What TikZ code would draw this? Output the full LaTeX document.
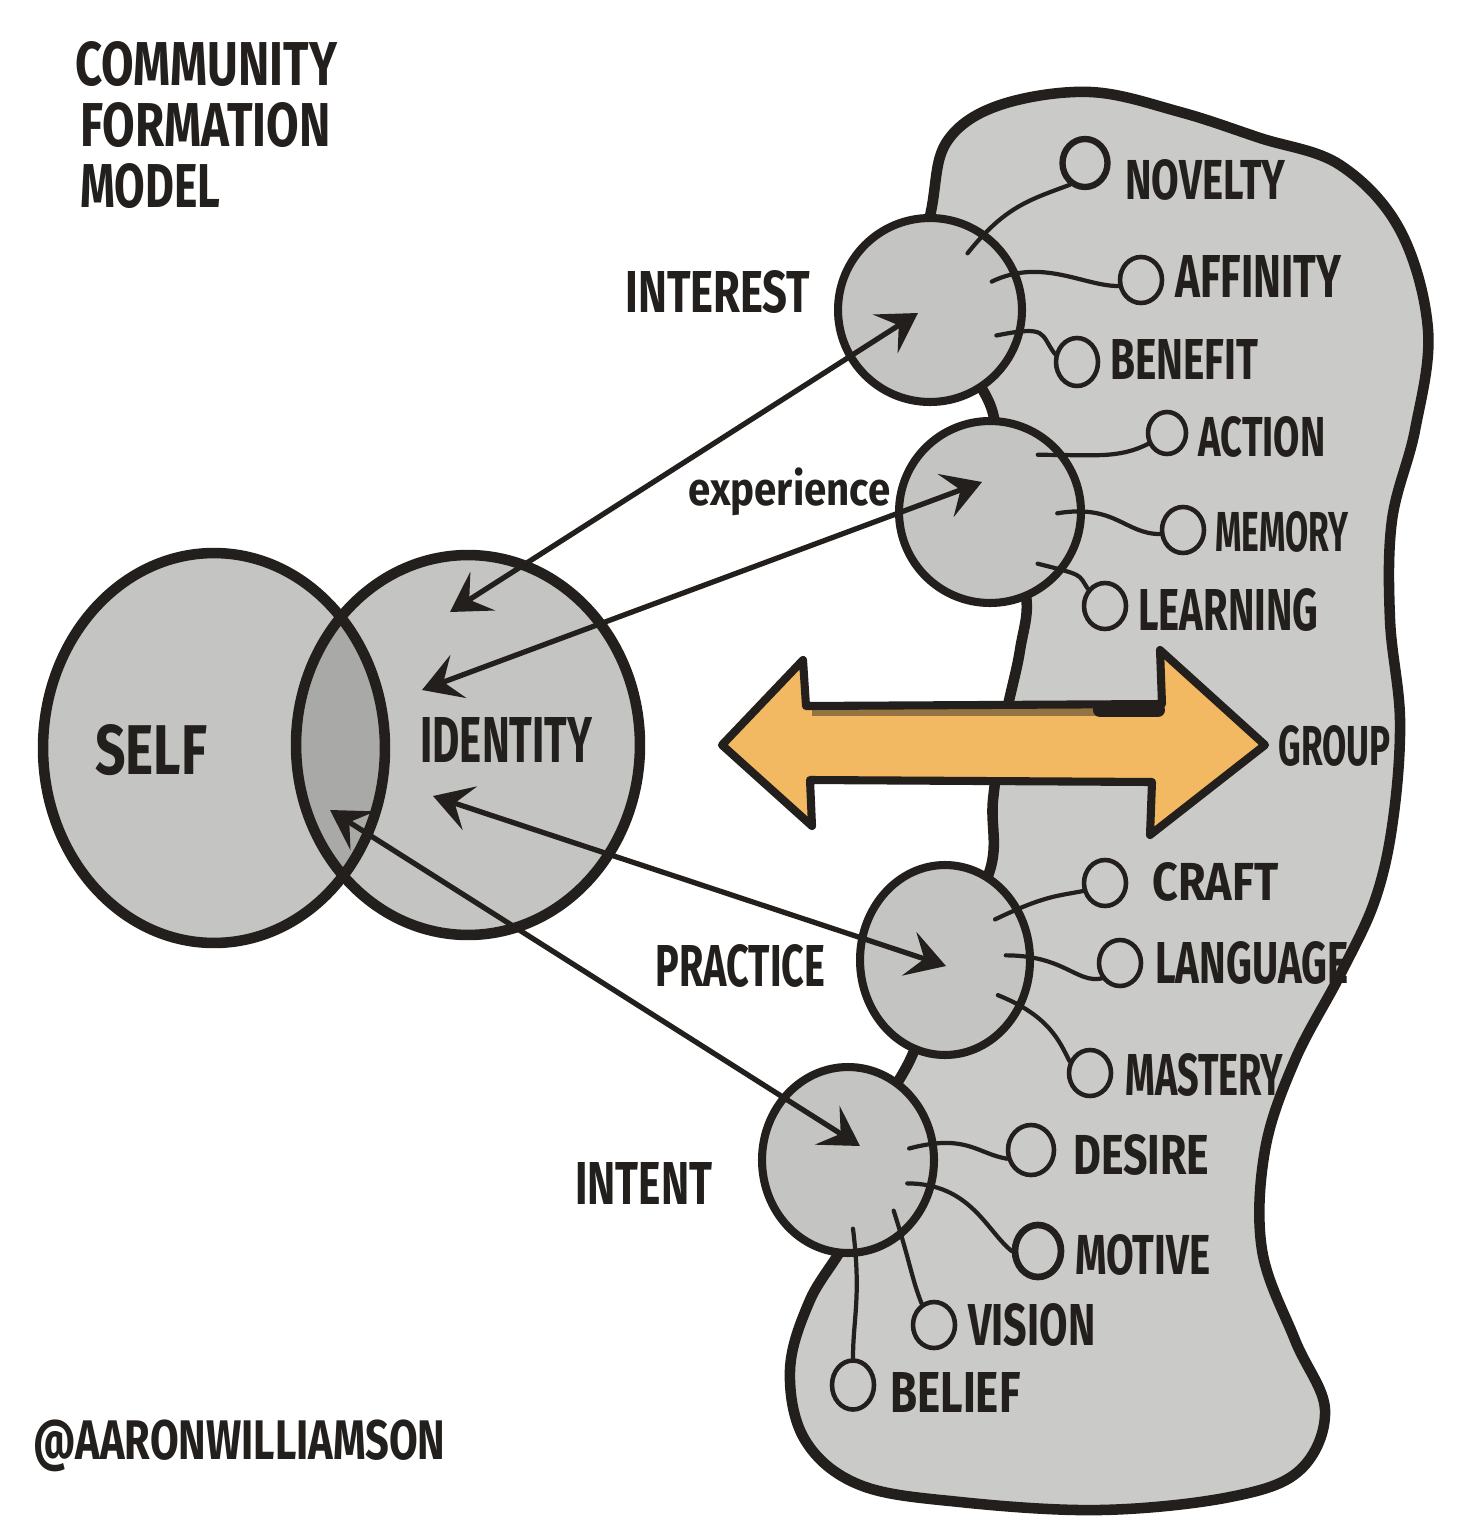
\documentclass[tikz,border=0pt]{standalone}
\usepackage{fontspec}
\newfontfamily\handfont{Fira Sans}
\usetikzlibrary{arrows.meta,shapes.geometric}
\newlength\pxu
\setlength\pxu{0.02cm}
\newcommand\hw[3]{\resizebox{#1\pxu}{#2\pxu}{\handfont\bfseries #3}}
\newcommand\hws[3]{\resizebox*{#1\pxu}{#2\pxu}{\handfont\bfseries #3}}
\definecolor{ink}{HTML}{231F1D}
\definecolor{blobgrey}{HTML}{CACAC8}
\definecolor{circgrey}{HTML}{C4C4C2}
\definecolor{overlapgrey}{HTML}{A9A9A7}
\definecolor{orangef}{HTML}{F2B862}
\tikzset{
  blobshape/.style={fill=blobgrey, draw=ink, line width=6pt, line join=round},
  bigc/.style={circle, fill=circgrey, draw=ink, line width=4.6pt, inner sep=0pt},
  bige/.style={ellipse, fill=circgrey, draw=ink, line width=4.6pt, inner sep=0pt},
  smallc/.style={ellipse, draw=ink, line width=2.6pt, inner sep=0pt, minimum width=0.84cm, minimum height=0.92cm},
  conn/.style={draw=ink, line width=2.4pt, line cap=round, shorten <=-16pt},
  tarrow/.style={draw=ink, line width=3pt, line cap=round,
    arrows={Stealth[length=22pt,width=26pt,inset=9pt]-Stealth[length=22pt,width=26pt,inset=9pt]}},
  lbl/.style={inner sep=0pt, anchor=west, text=ink},
  outl/.style={draw=ink, line width=6pt}
}
\begin{document}
\begin{tikzpicture}[x={(0.02cm,0)}, y={(0,-0.02cm)}]
\useasboundingbox (0,0) rectangle (1456,1520);
\fill[white] (0,0) rectangle (1456,1520);

% group blob
\draw[blobshape] plot[smooth cycle, tension=0.6] coordinates {
 (925,300) (933,200) (948,140) (1000,105) (1090,92) (1180,112) (1260,138)
 (1340,165) (1400,230) (1428,330) (1415,430) (1392,520) (1390,620)
 (1400,720) (1393,820) (1375,900) (1340,975) (1295,1060) (1265,1150)
 (1262,1250) (1295,1340) (1325,1410) (1300,1470) (1230,1497) (1100,1510)
 (960,1502) (860,1485) (805,1440) (790,1370) (810,1300) (850,1230)
 (850,1160) (910,1060) (945,960) (990,870) (993,800) (1005,720)
 (1020,650) (1025,590) (990,510) (992,410)};

% stage circles
\node[bigc, minimum size=3.68cm] (interest) at (930,310) {};
\node[bigc, minimum size=3.64cm] (experience) at (990,512) {};
\node[bige, minimum width=3.4cm, minimum height=3.8cm] (practice) at (945,960) {};
\node[bige, minimum width=3.44cm, minimum height=3.72cm] (intent) at (848,1160) {};

% small circles
\node[smallc, line width=3.6pt, minimum width=0.9cm, minimum height=0.96cm] (nov) at (1085,163) {};
\node[smallc] (aff) at (1141,280) {};
\node[smallc, minimum height=0.96cm] (ben) at (1077,362) {};
\node[smallc, minimum width=0.76cm, minimum height=0.84cm] (act) at (1167,433) {};
\node[smallc] (mem) at (1183,530) {};
\node[smallc] (lrn) at (1105,606) {};
\node[smallc] (cra) at (1105,883) {};
\node[smallc] (lan) at (1120,963) {};
\node[smallc] (mas) at (1090,1073) {};
\node[smallc, minimum width=0.92cm, minimum height=1cm] (des) at (1031,1150) {};
\node[smallc, line width=3.8pt, minimum width=0.92cm, minimum height=1.04cm] (mot) at (1038,1251) {};
\node[smallc] (vis) at (934,1325) {};
\node[smallc, minimum height=0.98cm] (bel) at (853,1385) {};

% connectors
\draw[conn] (interest.55) .. controls +(20,-25) and +(-40,15) .. (nov.235);
\draw[conn] (interest.25) .. controls +(25,-12) and +(-35,0) .. (aff.195);
\draw[conn] (interest.-12) .. controls +(25,-5) and +(-15,-20) .. (ben.160);
\draw[conn] (experience.37) .. controls +(30,0) and +(-30,15) .. (act.210);
\draw[conn] (experience.2) .. controls +(30,-5) and +(-35,0) .. (mem.190);
\draw[conn] (experience.-38) .. controls +(20,5) and +(-10,-15) .. (lrn.135);
\draw[conn] (practice.35) .. controls +(25,-12) and +(-25,5) .. (cra.200);
\draw[conn] (practice.3) .. controls +(30,0) and +(-25,5) .. (lan.220);
\draw[conn] (practice.-30) .. controls +(25,10) and +(-10,-20) .. (mas.150);
\draw[conn] (intent.12) .. controls +(30,-8) and +(-30,-5) .. (des.200);
\draw[conn] (intent.-15) .. controls +(35,0) and +(-25,-20) .. (mot.180);
\draw[conn] (intent.-55) .. controls +(8,25) and +(-10,-25) .. (vis.120);
\draw[conn] (intent.-85) .. controls +(5,40) and +(0,-40) .. (bel.north);

% big orange double arrow
\draw[fill=orangef, draw=ink, line width=4.6pt, line join=round]
  (722,745) -- (803,660) -- (806,706) -- (1162,704) -- (1160,650)
  -- (1265,745) -- (1150,835) -- (1152,782) -- (810,780) -- (812,826) -- cycle;
\fill[ink, opacity=0.45] (812,706) rectangle (1100,716);
\draw[ink, line width=8pt, line cap=round] (1100,710) -- (1158,710);

% self and identity
\node[ellipse, fill=circgrey, inner sep=0pt, minimum width=6.84cm, minimum height=7.8cm] (self) at (214,748) {};
\node[ellipse, fill=circgrey, inner sep=0pt, minimum width=6.88cm, minimum height=7.6cm] (identity) at (468,745) {};
\begin{scope}
  \clip (self.center) ellipse [x radius=3.42cm, y radius=3.9cm];
  \fill[overlapgrey] (identity.center) ellipse [x radius=3.44cm, y radius=3.8cm];
\end{scope}
\draw[outl] (self.center) ellipse [x radius=3.42cm, y radius=3.9cm];
\draw[outl] (identity.center) ellipse [x radius=3.44cm, y radius=3.8cm];

% thin double arrows
\coordinate (a1a) at (450,612); \coordinate (a1b) at (918,313);
\coordinate (a2a) at (422,690); \coordinate (a2b) at (982,482);
\coordinate (a3a) at (433,796); \coordinate (a3b) at (946,966);
\coordinate (a4a) at (330,810); \coordinate (a4b) at (860,1146);
\draw[tarrow] (a1a) -- (a1b);
\draw[tarrow] (a2a) -- (a2b);
\draw[tarrow] (a3a) -- (a3b);
\draw[tarrow] (a4a) -- (a4b);

% labels
\node[lbl] (t1) at (75,64) {\hw{262}{44}{COMMUNITY}};
\node[lbl] (t2) at (80,125) {\hw{250}{44}{FORMATION}};
\node[lbl] (t3) at (80,186) {\hw{140}{44}{MODEL}};
\node[lbl] (lself) at (95,750) {\hw{112}{50}{SELF}};
\node[lbl] (lid) at (420,740) {\hw{172}{45}{IDENTITY}};
\node[lbl] (lint) at (625,292) {\hw{185}{42}{INTEREST}};
\node[lbl] (lexp) at (688,492) {\hws{202}{48}{experience}};
\node[lbl] (lpra) at (655,966) {\hw{170}{42}{PRACTICE}};
\node[lbl] (lintent) at (575,1183) {\hw{137}{42}{INTENT}};
\node[lbl] (lnov) at (1125,180) {\hw{160}{40}{NOVELTY}};
\node[lbl] (laff) at (1175,276) {\hw{166}{42}{AFFINITY}};
\node[lbl] (lben) at (1110,359) {\hw{148}{40}{BENEFIT}};
\node[lbl] (lact) at (1198,437) {\hw{127}{40}{ACTION}};
\node[lbl] (lmem) at (1215,532) {\hw{133}{40}{MEMORY}};
\node[lbl] (llrn) at (1138,610) {\hw{180}{42}{LEARNING}};
\node[lbl] (lgrp) at (1278,746) {\hw{112}{40}{GROUP}};
\node[lbl] (lcra) at (1152,882) {\hw{126}{38}{CRAFT}};
\node[lbl] (llan) at (1155,963) {\hw{193}{42}{LANGUAGE}};
\node[lbl] (lmas) at (1125,1075) {\hw{158}{42}{MASTERY}};
\node[lbl] (ldes) at (1073,1155) {\hw{136}{40}{DESIRE}};
\node[lbl] (lmot) at (1075,1255) {\hw{135}{40}{MOTIVE}};
\node[lbl] (lvis) at (968,1325) {\hw{127}{42}{VISION}};
\node[lbl] (lbel) at (890,1392) {\hw{130}{40}{BELIEF}};
\node[lbl] (sig) at (33,1446) {\hws{412}{52}{@AARONWILLIAMSON}};
\end{tikzpicture}
\end{document}
